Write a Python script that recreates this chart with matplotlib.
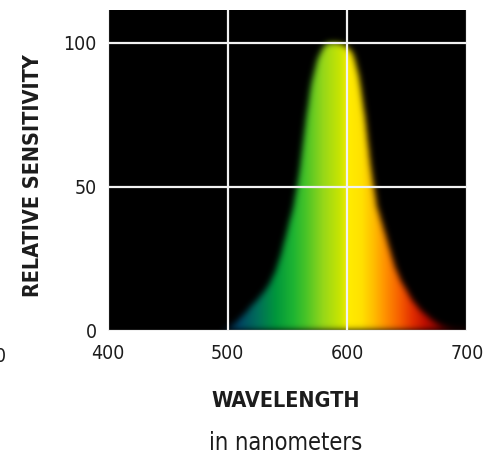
import numpy as np
import matplotlib.pyplot as plt

# sensitivity curve
wavelengths = [495, 500, 505, 510, 515, 520, 525, 530, 535, 540, 545, 550, 555, 560,
               565, 570, 575, 580, 585, 590, 595, 600, 605, 610, 615, 620, 625, 630,
               635, 640, 645, 650, 655, 660, 665, 670, 675, 680, 685, 690, 700]
sensitivity = [0, 0.5, 2, 3.8, 5.8, 8.5, 10.5, 13, 16, 20.5, 27, 35, 43, 55,
               72, 86, 94, 98.5, 100, 100, 99.5, 98.5, 96, 88, 74, 56, 43, 36,
               29, 22, 17, 13.5, 10, 7.5, 5.5, 3.8, 2.3, 1.2, 0.5, 0.2, 0]

# colour of the fill along the wavelength axis
color_wl = [500, 510, 525, 540, 555, 565, 580, 595, 602, 612, 622, 632, 645, 655, 665, 680]
color_rgb = [(0, 40, 70), (0, 70, 100), (0, 110, 90), (0, 150, 60), (30, 180, 50),
             (70, 195, 40), (150, 215, 25), (205, 230, 0), (255, 235, 0), (255, 225, 0),
             (255, 190, 0), (255, 145, 0), (245, 90, 0), (225, 45, 0), (190, 15, 0),
             (120, 0, 0)]

xticks = [400, 500, 600, 700]
yticks = [0, 50, 100]

FONT = ['DejaVu Sans']
TXT = '#1c1c1c'


def blur(a, sigma):
    r = int(3 * sigma)
    k = np.exp(-0.5 * (np.arange(-r, r + 1) / sigma) ** 2)
    k /= k.sum()
    a = np.apply_along_axis(lambda m: np.convolve(m, k, mode='same'), 0, a)
    a = np.apply_along_axis(lambda m: np.convolve(m, k, mode='same'), 1, a)
    return a


fig = plt.figure(figsize=(4.88, 4.59), dpi=100)
ax = fig.add_axes([108 / 488, 128.5 / 459, 359 / 488, 321 / 459])
ax.set_facecolor('black')

ymax = 111.5
nx, ny = 360, 321
xs = np.linspace(400, 700, nx)
ys = np.linspace(0, ymax, ny)
curve = np.interp(xs, wavelengths, sensitivity)
mask = (ys[:, None] < curve[None, :]).astype(float)
mask = blur(mask, 3.2)

rgb = np.array(color_rgb) / 255.0
cols = np.stack([np.interp(xs, color_wl, rgb[:, i]) for i in range(3)], axis=1)
img = cols[None, :, :] * mask[:, :, None]
ax.imshow(img, extent=[400, 700, 0, ymax], origin='lower', aspect='auto',
          interpolation='bilinear', zorder=0)

ax.set_xlim(400, 700)
ax.set_ylim(0, ymax)
ax.set_xticks(xticks)
ax.set_yticks(yticks)
ax.grid(color='#f2f2f2', linewidth=1.6)
ax.tick_params(length=0, labelsize=14, labelcolor=TXT, pad=8)
ax.tick_params(axis='x', pad=10)
for lab in ax.get_xticklabels() + ax.get_yticklabels():
    lab.set_family(FONT)
    lab.set_stretch('condensed')
for s in ax.spines.values():
    s.set_visible(False)

fig.text(286 / 488, 1 - 401 / 459, 'WAVELENGTH', ha='center', va='center',
         fontsize=15.5, fontweight='bold', family=FONT, stretch='condensed', color=TXT)
fig.text(286 / 488, 1 - 443 / 459, 'in nanometers', ha='center', va='center',
         fontsize=17, family=FONT, stretch='condensed', color=TXT)
fig.text(33 / 488, 1 - 176 / 459, 'RELATIVE SENSITIVITY', ha='center', va='center',
         rotation=90, fontsize=15.5, fontweight='bold', family=FONT, stretch='condensed',
         color=TXT)
fig.text(6 / 488, 1 - 356 / 459, '0', ha='right', va='center',
         fontsize=14, family=FONT, stretch='condensed', color=TXT)

fig.savefig('out.png', dpi=100)
